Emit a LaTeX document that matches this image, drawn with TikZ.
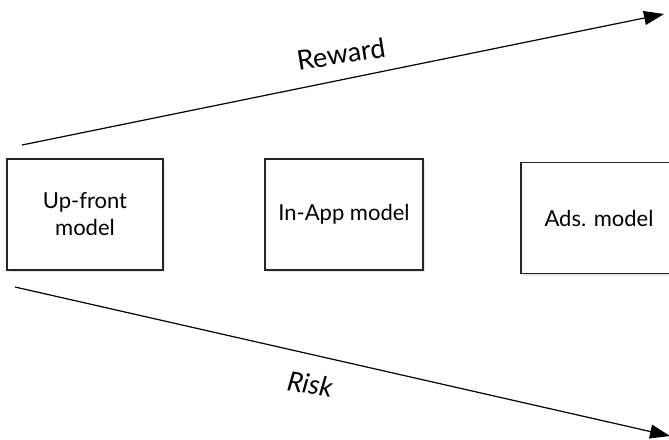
\documentclass[tikz,border=0pt]{standalone}
\usepackage{fontspec}
\setmainfont{Lato}
\usetikzlibrary{arrows.meta,shadows}
\begin{document}
\begin{tikzpicture}[x=1pt,y=-1pt,
  model/.style={draw=black!85, line width=1.4pt, fill=white,
    minimum width=156pt, minimum height=111pt,
    inner sep=0pt, align=center, font=\fontsize{22}{27}\selectfont,
    drop shadow={opacity=0.2, shadow xshift=1.5pt, shadow yshift=-2pt}},
  trend/.style={line width=1.2pt, -{Triangle[length=20pt,width=14pt]}},
  trendlabel/.style={font=\fontsize{27}{30}\selectfont}]
  \useasboundingbox (0,0) rectangle (669,439);
  \clip (0,0) rectangle (669,439);
  % payment models
  \node[model] (upfront) at (85,214.5) {Up-front\\model};
  \node[model, minimum width=158pt] (inapp) at (344,214.5) {In-App model};
  \node[model] (ads) at (599,218) {Ads. model};
  % reward and risk trends
  \coordinate (rs) at (22,145);
  \coordinate (re) at (664,14);
  \coordinate (ks) at (15,287);
  \coordinate (ke) at (670,436);
  \draw[trend] (rs) -- (re);
  \draw[trend] (ks) -- (ke);
  \node[trendlabel, rotate=9] (reward) at (341,54) {Reward};
  \node[trendlabel, rotate=-9] (risk) at (310,384) {\itshape Risk};
\end{tikzpicture}
\end{document}
